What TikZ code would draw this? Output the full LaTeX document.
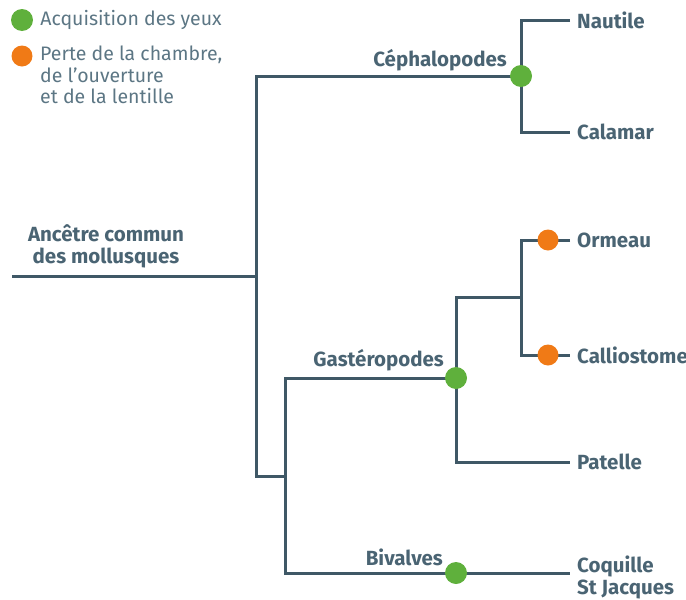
\documentclass[tikz,border=0pt]{standalone}
\usepackage{fontspec}
\setmainfont{Fira Sans}
\usetikzlibrary{positioning}
\definecolor{branch}{HTML}{3F5866}
\definecolor{labeltext}{HTML}{4A6473}
\definecolor{legendtext}{HTML}{5C7684}
\definecolor{eyegreen}{HTML}{5FB03C}
\definecolor{lossorange}{HTML}{F07A16}

\begin{document}
\begin{tikzpicture}[
    x=1pt, y=-1pt,
    line/.style={draw=branch, line width=3pt, line join=miter},
    leaf/.style={anchor=west, inner xsep=7pt, inner ysep=0pt, font=\fontsize{20.5}{22}\selectfont\bfseries, text=labeltext},
    clade/.style={anchor=base east, inner sep=0pt, font=\fontsize{20.5}{22}\selectfont\bfseries, text=labeltext},
    gain/.style={circle, fill=eyegreen, minimum size=22pt, inner sep=0pt},
    loss/.style={circle, fill=lossorange, minimum size=21pt, inner sep=0pt},
    legend/.style={inner sep=0pt, align=left, font=\fontsize{19.5}{21.5}\selectfont, text=legendtext}
]
\useasboundingbox (0,0) rectangle (686,600);

% Junctions of the tree
\coordinate (ancetre) at (12,276);
\coordinate (root) at (256,276);
\coordinate (ceph) at (521,76);
\coordinate (rest) at (285,476);
\coordinate (gast) at (456,378);
\coordinate (vetig) at (521,297);
\coordinate (biv) at (456,573);
\coordinate (coqend) at (570,573);
\coordinate (ormdot) at (548,240);
\coordinate (calldot) at (548,355);

% Leaves
\node[leaf] (nautile) at (570,20) {Nautile};
\node[leaf] (calamar) at (570,132) {Calamar};
\node[leaf] (ormeau) at (570,240) {Ormeau};
\node[leaf] (callio) at (570,355) {Calliostome};
\node[leaf] (patelle) at (570,462) {Patelle};
\node[leaf, anchor=north west, align=left] (coquille) at (570,556) {Coquille\\St Jacques};

% Clades
\node[clade] (cephlabel) at (507,66) {Céphalopodes};
\node[clade] (gastlabel) at (444,366) {Gastéropodes};
\node[clade] (bivlabel) at (443,565) {Bivalves};
\node[clade, anchor=south, align=center] (ancetrelabel) at (106,268) {Ancêtre commun\\des mollusques};

% Branches
\draw[line] (ancetre) -- (root);
\draw[line] (ceph) -| (root) |- (rest);
\draw[line] (nautile.west) -| (ceph) |- (calamar.west);
\draw[line] (gast) -| (rest) |- (coqend);
\draw[line] (vetig) -| (gast) |- (patelle.west);
\draw[line] (ormeau.west) -| (vetig) |- (callio.west);

% Events on the branches
\node[gain] (cephdot) at (ceph) {};
\node[gain] (gastdot) at (gast) {};
\node[gain] (bivdot) at (biv) {};
\node[loss] (ormeaudot) at (ormdot) {};
\node[loss] (calliodot) at (calldot) {};

% Legend
\node[gain] (gainkey) at (22,20) {};
\node[legend, right=7pt of gainkey] (gaintext) {Acquisition des yeux};
\node[loss] (losskey) at (22,56) {};
\node[legend, anchor=north west] (losstext) at (40,46) {Perte de la chambre,\\de l’ouverture\\et de la lentille};

\end{tikzpicture}
\end{document}
